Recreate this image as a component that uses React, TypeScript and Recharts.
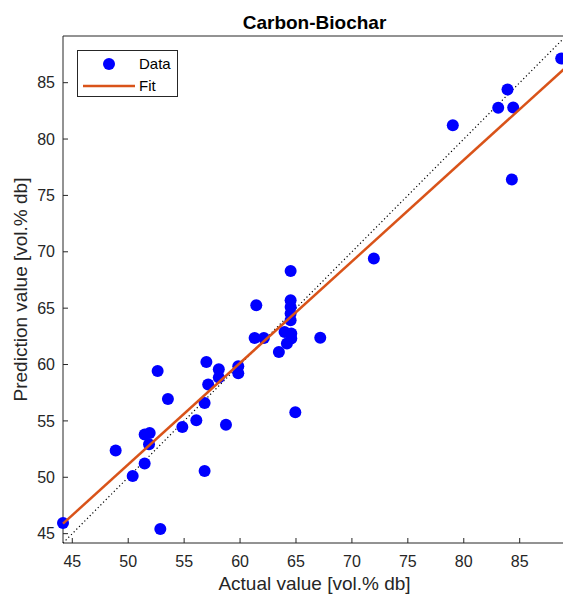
import React from 'react';
import { ScatterChart, Scatter, XAxis, YAxis, ReferenceLine, Legend } from 'recharts';

const actualValues = [
  44.17, 48.88, 50.4, 51.47, 51.86, 51.47, 51.92, 52.87, 52.63, 53.55, 54.84,
  56.09, 56.83, 56.83, 56.99, 57.15, 58.1, 58.1, 58.74, 59.84, 59.84, 61.3,
  62.13, 61.45, 63.47, 63.98, 64.19, 64.58, 64.58, 64.52, 64.52, 64.52, 64.52,
  64.52, 64.94, 67.17, 71.96, 79.02, 83.08, 83.91, 84.42, 84.3, 88.71,
];
const predictedValues = [
  45.94, 52.37, 50.12, 51.22, 52.93, 53.79, 53.93, 45.41, 59.43, 56.95, 54.46,
  55.06, 56.59, 50.56, 60.23, 58.22, 59.58, 58.85, 54.66, 59.85, 59.23, 62.36,
  62.36, 65.26, 61.12, 62.89, 61.86, 62.75, 62.31, 64.53, 65.11, 65.71, 63.93,
  68.3, 55.77, 62.38, 69.41, 81.23, 82.77, 84.4, 82.8, 76.42, 87.15,
];

// 선형 피팅 직선 양 끝점
const fitX = [44.17, 89.14];
const fitY = [45.89, 86.37];

const axisMin = 44.17;
const axisMax = 89.14;
const tickValues = [45, 50, 55, 60, 65, 70, 75, 80, 85];

const AXIS_COLOR = '#262626';
const FONT = '"Liberation Sans", Arial, Helvetica, sans-serif';

const scatterData = actualValues.map((x, i) => ({ x, y: predictedValues[i] }));
const fitData = fitX.map((x, i) => ({ x, y: fitY[i] }));

// 축 안쪽으로 향하는 눈금 + 라벨
const BottomTick = (props: any) => {
  const { x, y, payload } = props;
  return (
    <g>
      <line x1={x} x2={x} y1={y} y2={y - 5} stroke={AXIS_COLOR} strokeWidth={1} />
      <text x={x} y={y + 23.5} textAnchor="middle" fill={AXIS_COLOR} fontSize={16} fontFamily={FONT}>
        {payload.value}
      </text>
    </g>
  );
};

const TopTick = (props: any) => {
  const { x, y } = props;
  return <line x1={x} x2={x} y1={y} y2={y + 5} stroke={AXIS_COLOR} strokeWidth={1} />;
};

const LeftTick = (props: any) => {
  const { x, y, payload } = props;
  return (
    <g>
      <line x1={x} x2={x + 5} y1={y} y2={y} stroke={AXIS_COLOR} strokeWidth={1} />
      <text x={x - 8} y={y + 5.7} textAnchor="end" fill={AXIS_COLOR} fontSize={16} fontFamily={FONT}>
        {payload.value}
      </text>
    </g>
  );
};

const renderLegend = (props: any) => {
  const items = props.payload || [];
  return (
    <div
      style={{
        width: 101,
        height: 47,
        boxSizing: 'border-box',
        border: `1px solid ${AXIS_COLOR}`,
        background: '#fff',
        position: 'relative',
        fontFamily: FONT,
        fontSize: 15,
        color: '#000',
      }}
    >
      {items.map((item: any, i: number) => (
        <div key={i} style={{ position: 'absolute', left: 0, top: 3 + i * 21.5, height: 20, width: 100 }}>
          <svg width={60} height={20} style={{ position: 'absolute', left: 0, top: 0 }}>
            {item.type === 'circle' ? (
              <circle cx={31} cy={10} r={6} fill={item.color} />
            ) : (
              <line x1={5} x2={57} y1={10} y2={10} stroke={item.color} strokeWidth={2.5} />
            )}
          </svg>
          <span style={{ position: 'absolute', left: 61, top: 1, lineHeight: '18px' }}>{item.value}</span>
        </div>
      ))}
    </div>
  );
};

export default function App() {
  return (
    <div
      style={{
        position: 'absolute',
        left: 0,
        top: 0,
        width: 563,
        height: 598,
        overflow: 'hidden',
        background: '#fff',
      }}
    >
      <ScatterChart width={600} height={598} margin={{ top: 35, right: 34, bottom: 0, left: 0 }}>
        <XAxis
          xAxisId="top"
          orientation="top"
          type="number"
          dataKey="x"
          domain={[axisMin, axisMax]}
          ticks={tickValues}
          height={1}
          tickSize={0}
          tickMargin={0}
          tick={<TopTick />}
          axisLine={{ stroke: AXIS_COLOR }}
          label={(p: any) => {
            const vb = p.viewBox || { x: 63, width: 503 };
            return (
              <text
                x={vb.x + vb.width / 2}
                y={29}
                textAnchor="middle"
                fontSize={19}
                fontWeight="bold"
                fontFamily={FONT}
                fill="#000"
              >
                Carbon-Biochar
              </text>
            );
          }}
        />
        <XAxis
          type="number"
          dataKey="x"
          domain={[axisMin, axisMax]}
          ticks={tickValues}
          height={55}
          tickSize={0}
          tickMargin={0}
          tick={<BottomTick />}
          axisLine={{ stroke: AXIS_COLOR }}
          label={(p: any) => {
            const vb = p.viewBox || { x: 63, y: 543, width: 503 };
            return (
              <text
                x={vb.x + vb.width / 2}
                y={590}
                textAnchor="middle"
                fontSize={19}
                fontFamily={FONT}
                fill={AXIS_COLOR}
              >
                Actual value [vol.% db]
              </text>
            );
          }}
        />
        <YAxis
          type="number"
          dataKey="y"
          domain={[axisMin, axisMax]}
          ticks={tickValues}
          width={63}
          tickSize={0}
          tickMargin={0}
          tick={<LeftTick />}
          axisLine={{ stroke: AXIS_COLOR }}
          label={(p: any) => {
            const vb = p.viewBox || { y: 36, height: 507 };
            const cy = vb.y + vb.height / 2;
            return (
              <text
                x={27}
                y={cy}
                transform={`rotate(-90 27 ${cy})`}
                textAnchor="middle"
                fontSize={19}
                fontFamily={FONT}
                fill={AXIS_COLOR}
              >
                Prediction value [vol.% db]
              </text>
            );
          }}
        />
        <ReferenceLine
          segment={[
            { x: axisMin, y: axisMin },
            { x: axisMax, y: axisMax },
          ]}
          stroke="#000"
          strokeWidth={1.2}
          strokeDasharray="1.2 2.6"
        />
        <Scatter
          name="Data"
          data={scatterData}
          fill="#0000ff"
          legendType="circle"
          isAnimationActive={false}
          shape={(p: any) => <circle cx={p.cx} cy={p.cy} r={6} fill="#0000ff" />}
        />
        <Scatter
          name="Fit"
          data={fitData}
          fill="#d95319"
          legendType="line"
          isAnimationActive={false}
          line={{ stroke: '#d95319', strokeWidth: 2.5 }}
          shape={() => <g />}
        />
        <Legend
          layout="horizontal"
          verticalAlign="middle"
          align="center"
          content={renderLegend}
          wrapperStyle={{ top: 50, left: 77, width: 101, height: 47 }}
        />
      </ScatterChart>
    </div>
  );
}
